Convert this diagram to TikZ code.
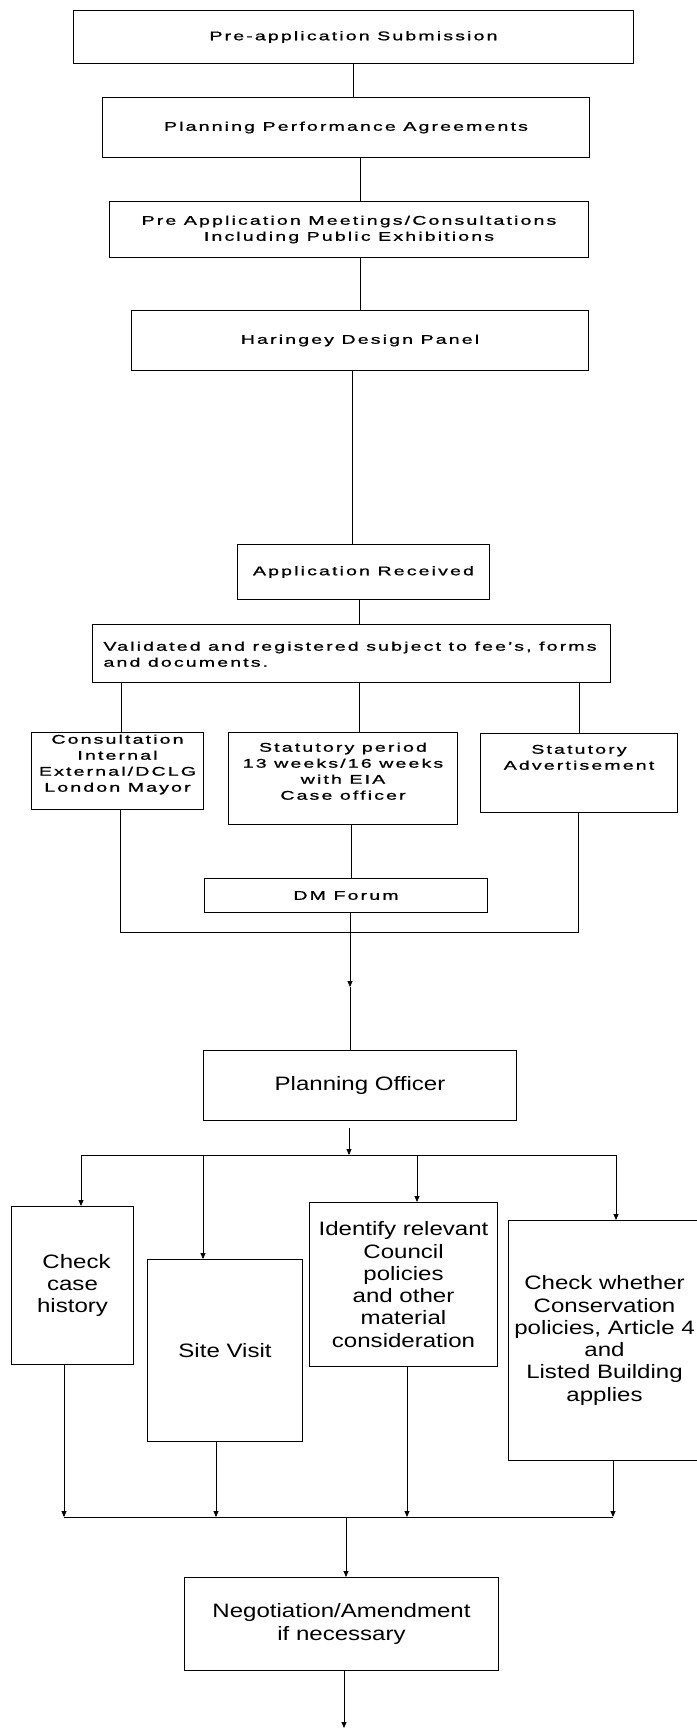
\documentclass[tikz,border=0pt]{standalone}
\usepackage{fontspec}
\setmainfont[FakeStretch=1.24]{Liberation Sans}
\newfontfamily\topfont[FakeStretch=1.55,LetterSpace=17,FakeBold=1]{Liberation Sans}
\usetikzlibrary{arrows.meta}
\newcommand{\mycbox}[3]{\parbox[c][#2][c]{#1}{\centering #3\par}}
\newcommand{\mytbox}[4]{\parbox[c][#2][t]{#1}{\vspace*{#3}\centering\strut #4\par}}
\tikzset{
  boxA/.style={draw, line width=1pt, inner sep=0pt, anchor=north west,
    font=\topfont\fontsize{12.6}{16}\selectfont},
  boxB/.style={draw, line width=1pt, inner sep=0pt, anchor=north west,
    font=\fontsize{19.4}{22.3}\selectfont},
  ln/.style={line width=0.8pt},
  arr/.style={line width=0.8pt, -{Triangle[length=6pt,width=5pt]}},
}
\begin{document}
\begin{tikzpicture}[x=1pt,y=-1pt]
\useasboundingbox (0,0) rectangle (696,1729);

% ---- top section ----
\node[boxA] (b1) at (73,10) {\mycbox{560pt}{53pt}{Pre-application Submission}};
\node[boxA] (b2) at (102,97) {\mycbox{487pt}{60pt}{Planning Performance Agreements}};
\node[boxA] (b3) at (109,201) {\mycbox{479pt}{56pt}{Pre Application Meetings/Consultations\\Including Public Exhibitions}};
\node[boxA] (b4) at (131,310) {\mycbox{457pt}{60pt}{Haringey Design Panel}};
\node[boxA] (b5) at (237,544) {\mycbox{252pt}{55pt}{Application Received}};
\node[boxA] (b6) at (92,624) {\parbox[c][58pt][t]{518pt}{\vspace*{15pt}\raggedright\leftskip=11pt\strut Validated and registered subject to fee’s, forms\\and documents.\par}};
\node[boxA] (c1) at (31,732) {\mytbox{172pt}{77pt}{0pt}{Consultation\\Internal\\External/DCLG\\London Mayor}};
\node[boxA] (c2) at (228,732) {\mytbox{229pt}{92pt}{8pt}{Statutory period\\13 weeks/16 weeks\\with EIA\\Case officer}};
\node[boxA] (c3) at (480,733) {\mytbox{197pt}{79pt}{9pt}{Statutory\\Advertisement}};
\node[boxA] (dm) at (204,878) {\mycbox{283pt}{34pt}{DM Forum}};

% ---- bottom section ----
\node[boxB] (po) at (203,1050) {\mycbox{313pt}{70pt}{Planning Officer}};
\node[boxB] (d1) at (11,1206) {\mycbox{122pt}{158pt}{\hspace*{8pt}Check\\case\\history}};
\node[boxB] (d2) at (147,1259) {\mycbox{155pt}{182pt}{Site Visit}};
\node[boxB] (d3) at (309,1202) {\mycbox{188pt}{164pt}{Identify relevant\\Council\\policies\\and other\\material\\consideration}};
\node[boxB] (d4) at (508,1220) {\mycbox{192pt}{240pt}{Check whether\\Conservation\\policies, Article 4\\and\\Listed Building\\applies}};
\node[boxB] (neg) at (184,1577) {\mycbox{314pt}{93pt}{Negotiation/Amendment\\if necessary}};

% ---- guide coordinates ----
\coordinate (v360) at (360,0);
\coordinate (v352) at (352,0);
\coordinate (v359) at (359,0);
\coordinate (v121) at (121,0);
\coordinate (v579) at (579,0);
\coordinate (v351) at (351,0);
\coordinate (m1) at (120,932);
\coordinate (m2) at (578,932);
\coordinate (k1) at (350,987);
\coordinate (p1) at (349,1155);
\coordinate (h1) at (81,1155);
\coordinate (h2) at (616,1155);
\coordinate (q2) at (203,1155);
\coordinate (q3) at (417,1155);
\coordinate (s1) at (64,1517);
\coordinate (s2) at (613,1517);
\coordinate (t2) at (216,1517);
\coordinate (t3) at (407,1517);
\coordinate (s3) at (346,1517);
\coordinate (fin) at (344,1728);

% ---- connectors, top ----
\draw[ln] (b1.south) -- (b1.south |- b2.north);
\draw[ln] (b2.south -| v360) -- (b3.north -| v360);
\draw[ln] (b3.south -| v360) -- (b4.north -| v360);
\draw[ln] (b4.south -| v352) -- (b5.north -| v352);
\draw[ln] (b5.south -| v359) -- (b6.north -| v359);
\draw[ln] (b6.south -| v121) -- (c1.north -| v121);
\draw[ln] (b6.south -| v359) -- (c2.north -| v359);
\draw[ln] (b6.south -| v579) -- (c3.north -| v579);
\draw[ln] (c2.south -| v351) -- (dm.north -| v351);
\draw[ln] (c1.south -| m1) -- (m1) -- (m2) -- (c3.south -| m2);
\draw[arr] (dm.south -| k1) -- (k1);
\draw[ln] (k1) -- (po.north -| k1);

% ---- connectors, bottom ----
\draw[arr, shorten <=7pt] (po.south -| p1) -- (p1);
\draw[ln] (h1) -- (h2);
\draw[arr] (h1) -- (d1.north -| h1);
\draw[arr] (q2) -- (d2.north -| q2);
\draw[arr] (q3) -- (d3.north -| q3);
\draw[arr] (h2) -- (d4.north -| h2);
\draw[arr] (d1.south -| s1) -- (s1);
\draw[arr] (d2.south -| t2) -- (t2);
\draw[arr] (d3.south -| t3) -- (t3);
\draw[arr] (d4.south -| s2) -- (s2);
\draw[ln] (s1) -- (s2);
\draw[arr] (s3) -- (neg.north -| s3);
\draw[arr] (neg.south -| fin) -- (fin);
\end{tikzpicture}
\end{document}
